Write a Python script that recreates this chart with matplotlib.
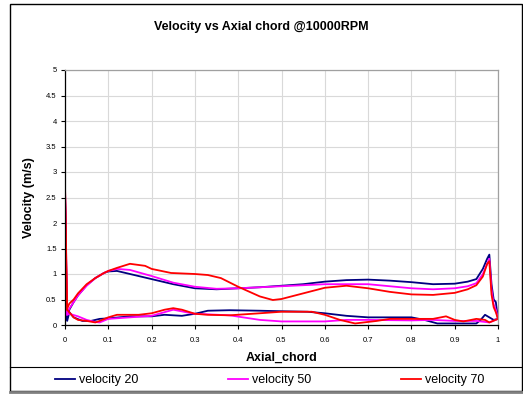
import matplotlib
matplotlib.use("Agg")
import matplotlib.pyplot as plt
from matplotlib.lines import Line2D
from matplotlib.patches import Rectangle

plt.rcParams['font.family'] = ['Liberation Sans', 'DejaVu Sans']

# velocity 20 (blue)
v20_up_x = [0.0, 0.004, 0.01, 0.02, 0.03, 0.05, 0.07, 0.09, 0.1, 0.12, 0.15, 0.2, 0.25, 0.3, 0.35, 0.4,
            0.45, 0.5, 0.55, 0.6, 0.65, 0.7, 0.75, 0.8, 0.85, 0.9, 0.93, 0.95, 0.965, 0.975, 0.98, 0.985, 0.99, 0.995, 1.0]
v20_up_y = [2.55, 0.1, 0.3, 0.45, 0.58, 0.78, 0.92, 1.02, 1.05, 1.06, 1.0, 0.9, 0.8, 0.72, 0.7, 0.72,
            0.74, 0.77, 0.8, 0.85, 0.88, 0.89, 0.87, 0.84, 0.8, 0.81, 0.85, 0.9, 1.1, 1.3, 1.38, 0.8, 0.5, 0.45, 0.12]
v20_lo_x = [0.0, 0.005, 0.01, 0.02, 0.04, 0.06, 0.08, 0.1, 0.15, 0.2, 0.23, 0.27, 0.3, 0.33, 0.38, 0.45,
            0.5, 0.56, 0.6, 0.65, 0.7, 0.75, 0.8, 0.83, 0.86, 0.9, 0.95, 0.96, 0.97, 0.98, 0.99, 1.0]
v20_lo_y = [2.55, 0.08, 0.25, 0.15, 0.08, 0.08, 0.12, 0.13, 0.17, 0.17, 0.2, 0.18, 0.22, 0.28, 0.29, 0.28,
            0.27, 0.26, 0.23, 0.18, 0.15, 0.15, 0.15, 0.1, 0.03, 0.03, 0.03, 0.1, 0.2, 0.15, 0.1, 0.12]

# velocity 50 (magenta)
v50_up_x = [0.0, 0.004, 0.01, 0.02, 0.03, 0.05, 0.07, 0.09, 0.1, 0.12, 0.15, 0.2, 0.25, 0.3, 0.35, 0.4,
            0.45, 0.5, 0.55, 0.6, 0.65, 0.7, 0.75, 0.8, 0.85, 0.9, 0.93, 0.95, 0.965, 0.975, 0.98, 0.985, 0.99, 0.995, 1.0]
v50_up_y = [2.7, 0.2, 0.32, 0.45, 0.58, 0.77, 0.92, 1.02, 1.06, 1.1, 1.08, 0.96, 0.83, 0.75, 0.71, 0.72,
            0.74, 0.76, 0.78, 0.8, 0.8, 0.8, 0.76, 0.72, 0.7, 0.72, 0.76, 0.82, 1.0, 1.2, 1.3, 0.7, 0.4, 0.3, 0.12]
v50_lo_x = [0.0, 0.005, 0.01, 0.03, 0.05, 0.07, 0.08, 0.1, 0.15, 0.2, 0.25, 0.28, 0.3, 0.38, 0.45, 0.5,
            0.6, 0.65, 0.7, 0.8, 0.85, 0.9, 0.95, 0.98, 1.0]
v50_lo_y = [2.7, 0.2, 0.22, 0.17, 0.1, 0.06, 0.05, 0.12, 0.15, 0.18, 0.3, 0.25, 0.22, 0.19, 0.1, 0.07,
            0.07, 0.1, 0.1, 0.09, 0.1, 0.08, 0.08, 0.05, 0.12]

# velocity 70 (red)
v70_up_x = [0.0, 0.004, 0.01, 0.02, 0.03, 0.05, 0.07, 0.09, 0.1, 0.12, 0.15, 0.185, 0.2, 0.245, 0.3, 0.33, 0.36, 0.4,
            0.45, 0.48, 0.5, 0.55, 0.6, 0.65, 0.7, 0.75, 0.8, 0.85, 0.9, 0.93, 0.95, 0.965, 0.975, 0.98, 0.985, 0.99, 0.995, 1.0]
v70_up_y = [2.75, 0.3, 0.42, 0.5, 0.62, 0.8, 0.92, 1.02, 1.06, 1.12, 1.2, 1.16, 1.1, 1.02, 1.0, 0.98, 0.92, 0.75,
            0.56, 0.49, 0.51, 0.62, 0.73, 0.77, 0.72, 0.65, 0.6, 0.59, 0.63, 0.7, 0.78, 0.95, 1.2, 1.25, 0.6, 0.35, 0.25, 0.12]
v70_lo_x = [0.0, 0.005, 0.01, 0.02, 0.03, 0.05, 0.07, 0.08, 0.1, 0.12, 0.17, 0.2, 0.23, 0.25, 0.27, 0.3, 0.33,
            0.38, 0.45, 0.5, 0.57, 0.6, 0.635, 0.67, 0.72, 0.75, 0.85, 0.88, 0.9, 0.92, 0.95, 0.97, 0.98, 1.0]
v70_lo_y = [2.75, 0.3, 0.25, 0.15, 0.1, 0.08, 0.05, 0.08, 0.15, 0.2, 0.2, 0.23, 0.3, 0.33, 0.3, 0.22, 0.2,
            0.19, 0.23, 0.26, 0.26, 0.2, 0.1, 0.03, 0.08, 0.12, 0.12, 0.17, 0.1, 0.07, 0.12, 0.1, 0.05, 0.12]

x_ticks = [0, 0.1, 0.2, 0.3, 0.4, 0.5, 0.6, 0.7, 0.8, 0.9, 1]
x_labels = ['0', '0.1', '0.2', '0.3', '0.4', '0.5', '0.6', '0.7', '0.8', '0.9', '1']
y_ticks = [0, 0.5, 1, 1.5, 2, 2.5, 3, 3.5, 4, 4.5, 5]
y_labels = ['0', '0.5', '1', '1.5', '2', '2.5', '3', '3.5', '4', '4.5', '5']

series = [
    ('velocity 20', '#000080', v20_up_x, v20_up_y, v20_lo_x, v20_lo_y),
    ('velocity 50', '#FF00FF', v50_up_x, v50_up_y, v50_lo_x, v50_lo_y),
    ('velocity 70', '#FF0000', v70_up_x, v70_up_y, v70_lo_x, v70_lo_y),
]

W, H = 523, 394
fig = plt.figure(figsize=(W / 100, H / 100), dpi=100)

# outer frame
fig.patches.append(Rectangle((10 / W, 1 - 391 / H), 512 / W, 387 / H, transform=fig.transFigure,
                             fill=False, edgecolor='black', linewidth=1.0))
fig.add_artist(Line2D([10 / W, 1], [1 - 367 / H, 1 - 367 / H], transform=fig.transFigure,
                      color='black', linewidth=0.8))
fig.add_artist(Line2D([10 / W, 1], [1 - 392 / H, 1 - 392 / H], transform=fig.transFigure,
                      color='#808080', linewidth=2))

ax = fig.add_axes([65 / W, 1 - 325 / H, 433 / W, 255 / H])
for name, col, ux, uy, lx, ly in series:
    ax.plot(ux, uy, color=col, linewidth=1.3, label=name)
    ax.plot(lx, ly, color=col, linewidth=1.3)

ax.set_xlim(0, 1)
ax.set_ylim(0, 5)
ax.set_xticks(x_ticks)
ax.set_xticklabels(x_labels)
ax.set_yticks(y_ticks)
ax.set_yticklabels(y_labels)
ax.grid(True, color='#D9D9D9', linewidth=0.8)
ax.set_axisbelow(True)
ax.tick_params(axis='x', labelsize=5.5, length=3, width=0.8, colors='black', pad=6)
ax.tick_params(axis='y', labelsize=5.5, length=3, width=0.8, colors='black', pad=3)
ax.spines['left'].set_color('black')
ax.spines['bottom'].set_color('black')
ax.spines['top'].set_color('#A0A0A0')
ax.spines['right'].set_color('#A0A0A0')
for s in ax.spines.values():
    s.set_linewidth(0.9)

ax.set_xlabel('Axial_chord', fontsize=9, fontweight='bold', labelpad=5)
ax.set_ylabel('Velocity (m/s)', fontsize=9, fontweight='bold', labelpad=8)
fig.text(0.5, 1 - 27 / H, 'Velocity vs Axial chord @10000RPM', ha='center', va='center',
         fontsize=9, fontweight='bold')

handles, labels = ax.get_legend_handles_labels()
fig.legend(handles, labels, loc='center left', bbox_to_anchor=(55 / W, 1 - 380 / H), ncol=3, frameon=False,
           fontsize=9, handlelength=1.6, handletextpad=0.3, columnspacing=7.2, borderpad=0, borderaxespad=0)

fig.savefig('out.png', dpi=100)
